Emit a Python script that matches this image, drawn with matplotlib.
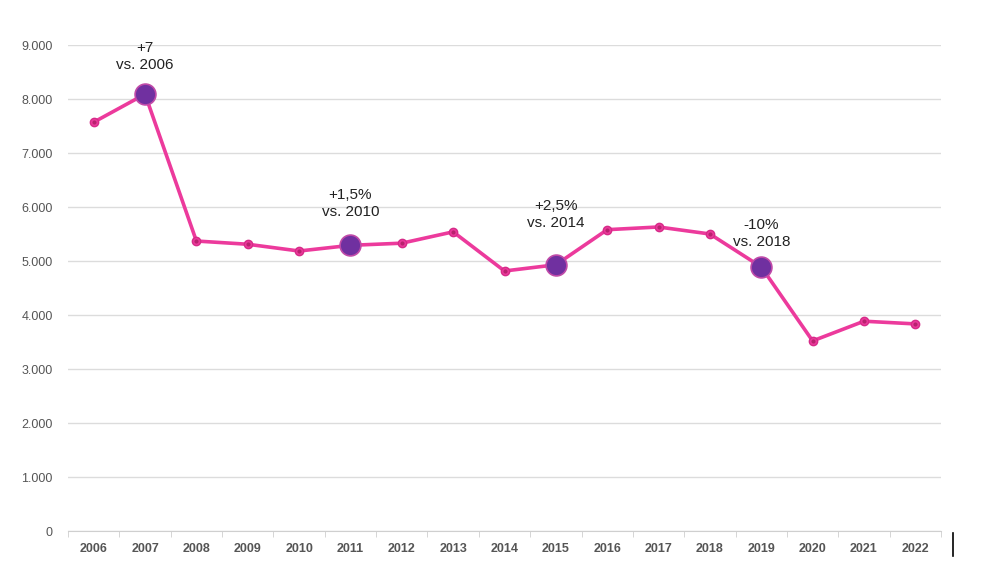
import numpy as np
import matplotlib
matplotlib.use('Agg')
import matplotlib.pyplot as plt
from matplotlib.lines import Line2D

plt.rcParams['font.family'] = ['Liberation Sans', 'DejaVu Sans']

years = [str(y) for y in range(2006, 2023)]
values = [7570, 8090, 5370, 5310, 5185, 5290, 5330, 5540, 4815, 4930,
          5580, 5630, 5500, 4890, 3520, 3885, 3835]

highlight_years = ['2007', '2011', '2015', '2019']
highlight_labels = ['+7\nvs. 2006', '+1,5%\nvs. 2010', '+2,5%\nvs. 2014', '-10%\nvs. 2018']
label_offsets = [16, 19, 25, 13]  # points above marker

y_ticks = [0, 1000, 2000, 3000, 4000, 5000, 6000, 7000, 8000, 9000]
y_tick_labels = ['0', '1.000', '2.000', '3.000', '4.000', '5.000', '6.000', '7.000', '8.000', '9.000']

pink = '#EC3A9C'
purple = '#7030A0'

fig = plt.figure(figsize=(9.91, 5.81), dpi=100, facecolor='white')
ax = fig.add_axes([68 / 991, 50 / 581, 873 / 991, 486 / 581])

x = np.arange(len(years))
ax.plot(x, values, color=pink, linewidth=2.6, zorder=3,
        marker='o', markersize=6, markerfacecolor=pink,
        markeredgecolor='#d62b88', markeredgewidth=1)
ax.plot(x, values, linestyle='none', marker='o', markersize=2,
        color='#b8226f', zorder=3.5)

for yr, lab, off in zip(highlight_years, highlight_labels, label_offsets):
    i = years.index(yr)
    ax.plot(x[i], values[i], marker='o', markersize=15, color=purple,
            markeredgecolor='#c04aa8', markeredgewidth=1.2, zorder=4)
    ax.annotate(lab, (x[i], values[i]), xytext=(0, off), textcoords='offset points',
                ha='center', va='bottom', fontsize=11, color='#222222',
                linespacing=1.3, annotation_clip=False)

ax.set_xlim(-0.5, len(years) - 0.5)
ax.set_ylim(0, 9000)
ax.set_yticks(y_ticks)
ax.set_yticklabels(y_tick_labels)
ax.set_xticks(x)
ax.set_xticklabels(years)
ax.set_xticks(np.arange(-0.5, len(years), 1), minor=True)

ax.grid(axis='y', color='#dcdcdc', linewidth=1)
ax.set_axisbelow(True)
for s in ['top', 'right', 'left']:
    ax.spines[s].set_visible(False)
ax.spines['bottom'].set_color('#cfcfcf')

ax.tick_params(axis='y', length=0, pad=11, labelsize=9, labelcolor='#555555')
ax.tick_params(axis='x', which='major', length=0, pad=9, labelsize=9, labelcolor='#555555')
ax.tick_params(axis='x', which='minor', length=4, color='#cfcfcf')
for t in ax.get_xticklabels():
    t.set_fontweight('bold')

# stray cursor mark at the bottom right
fig.add_artist(Line2D([953 / 991, 953 / 991], [(581 - 533) / 581, (581 - 556) / 581],
                      color='black', linewidth=1.2))

fig.savefig('out.png', dpi=100, facecolor='white')
